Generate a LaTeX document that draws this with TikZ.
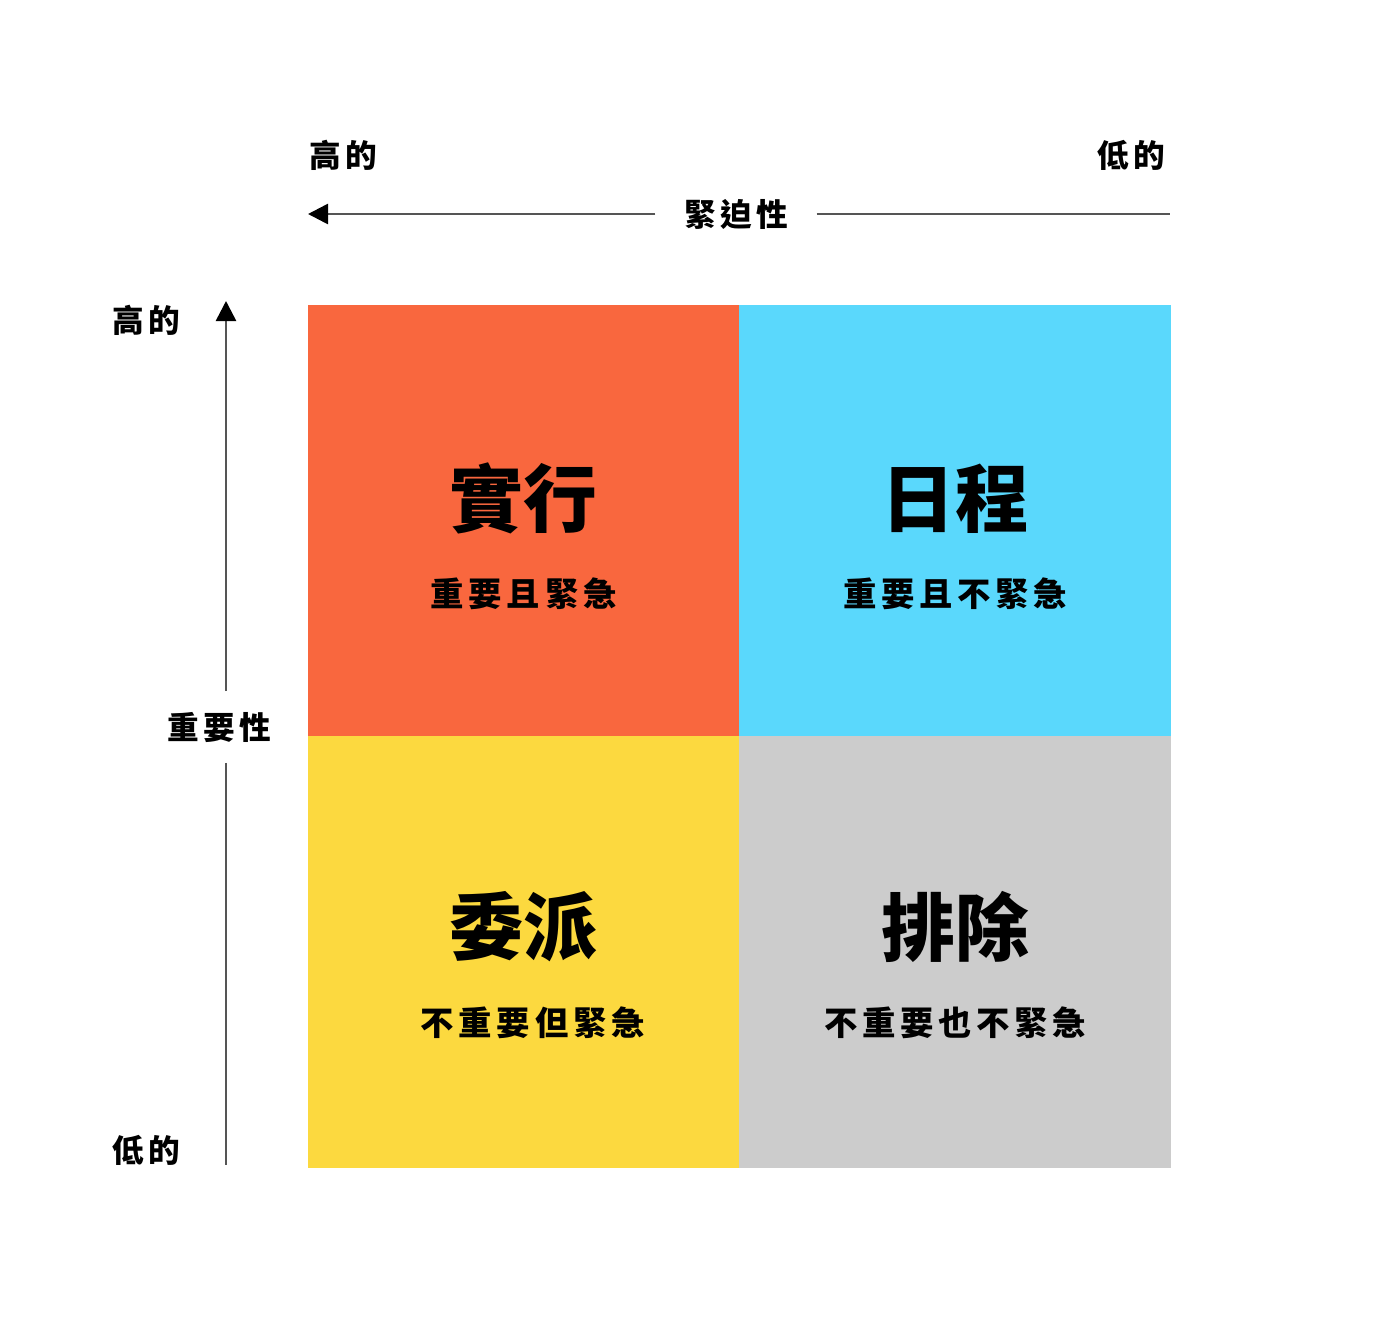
\documentclass[tikz,border=0pt]{standalone}
\usepackage{fontspec}
\usepackage{tikz}
\usetikzlibrary{arrows.meta, positioning}
\newfontfamily\cjk{Noto Sans CJK TC}[LetterSpace=14]
\newfontfamily\cjktitle{Noto Sans CJK TC Black}
\definecolor{doit}{HTML}{F9673E}
\definecolor{plan}{HTML}{5AD8FC}
\definecolor{hand}{HTML}{FCD93F}
\definecolor{drop}{HTML}{CCCCCC}
\definecolor{axisgray}{HTML}{555555}

\begin{document}
\begin{tikzpicture}[
            quad/.style={minimum width=4.3cm,minimum height=4.3cm,inner sep=0pt,anchor=north west,
                fill=#1,draw=#1,line width=0.4pt},
            title/.style={font=\cjktitle\fontsize{21}{24}\selectfont},
            sub/.style={font=\cjk\bfseries\fontsize{9.5}{11}\selectfont},
            lbl/.style={font=\cjk\bfseries\fontsize{9}{11}\selectfont},
            axisline/.style={draw=axisgray,line width=0.75pt},
            axisarrow/.style={axisline,-{Triangle[length=0.2cm,width=0.2cm,color=black]}}]
            \useasboundingbox (0,0) rectangle (14,-13.36);

            % the four quadrants
            \node[quad=doit]   (Q1) at (3.08,-3.05)   {};
            \node[quad=plan]   (Q2) [right=0pt of Q1] {};
            \node[quad=hand]   (Q3) [below=0pt of Q1] {};
            \node[quad=drop]   (Q4) [right=0pt of Q3] {};

            \node[title] (T1) at ([yshift=0.22cm]Q1.center)  {實行};
            \node[sub]   (S1) at ([yshift=-0.73cm]Q1.center) {重要且緊急};
            \node[title] (T2) at ([yshift=0.22cm]Q2.center)  {日程};
            \node[sub]   (S2) at ([yshift=-0.73cm]Q2.center) {重要且不緊急};
            \node[title] (T3) at ([yshift=0.25cm]Q3.center)  {委派};
            \node[sub]   (S3) at ([xshift=0.09cm,yshift=-0.71cm]Q3.center) {不重要但緊急};
            \node[title] (T4) at ([yshift=0.25cm]Q4.center)  {排除};
            \node[sub]   (S4) at ([yshift=-0.71cm]Q4.center) {不重要也不緊急};

            % urgency axis
            \node[lbl,inner xsep=0.28cm] (urg) at (7.36,-2.14) {緊迫性};
            \coordinate (urgL) at (3.08,-2.14);
            \coordinate (urgR) at (11.70,-2.14);
            \draw[axisarrow] (urg.west) -- (urgL);
            \draw[axisline]  (urg.east) -- (urgR);
            \node[lbl] (urgHi) at (3.43,-1.55)  {高的};
            \node[lbl] (urgLo) at (11.31,-1.55) {低的};

            % importance axis
            \node[lbl,inner ysep=0.2cm] (imp) at (2.19,-7.27) {重要性};
            \coordinate (impT) at (2.26,-3.01);
            \coordinate (impB) at (2.26,-11.65);
            \draw[axisarrow] (imp.north -| impT) -- (impT);
            \draw[axisline]  (imp.south -| impB) -- (impB);
            \node[lbl] (impHi) at (1.46,-3.20)  {高的};
            \node[lbl] (impLo) at (1.46,-11.50) {低的};
\end{tikzpicture}
\end{document}
